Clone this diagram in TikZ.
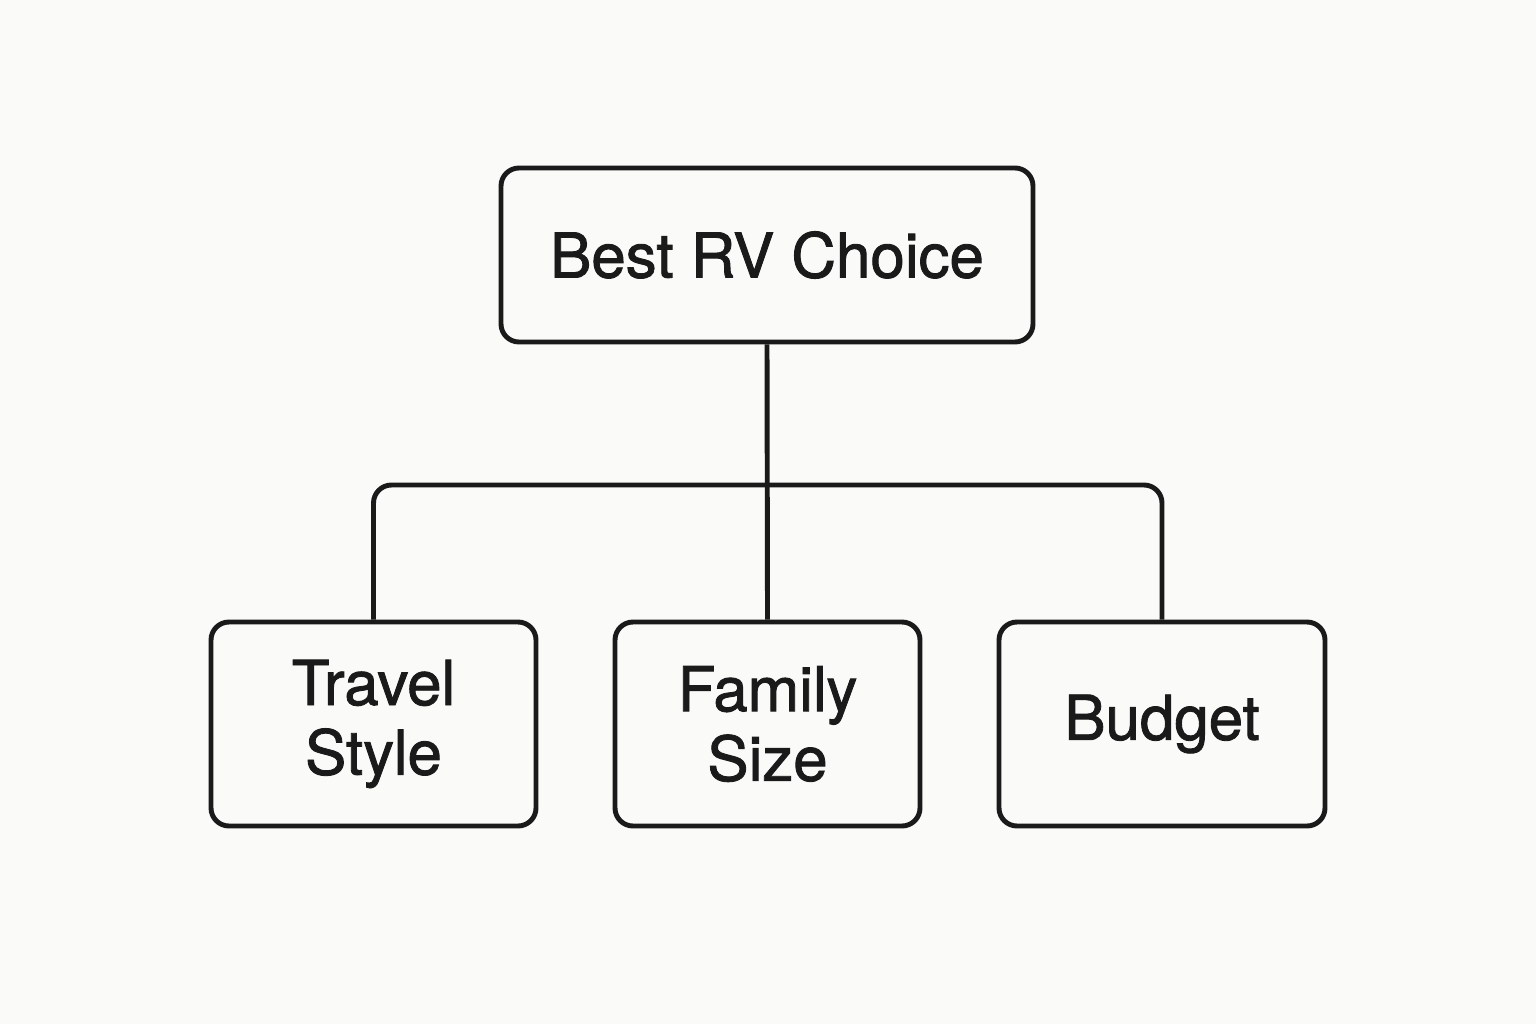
\documentclass[tikz,border=0pt]{standalone}
\usepackage{fontspec}
\newfontfamily\boxfont[FakeBold=1.4]{TeX Gyre Heros}
\usepackage{tikz}
\usetikzlibrary{positioning}

\definecolor{paper}{HTML}{FAFAF8}
\definecolor{ink}{HTML}{1A1A1A}

\begin{document}
\begin{tikzpicture}[line width=1.4pt,draw=ink,
	main node/.style={rectangle,rounded corners=0.18cm,draw=ink,fill=paper,align=center,
		font=\boxfont\fontsize{17.6}{19.8}\selectfont,text=ink,inner sep=0pt}]

	\fill[paper] (0,0) rectangle (15.36,10.24);
	\useasboundingbox (0,0) rectangle (15.36,10.24);

	\node[main node,minimum width=5.32cm,minimum height=1.74cm] (top) at (7.67,7.69) {Best RV Choice};
	\node[main node,minimum width=3.25cm,minimum height=2.04cm] (travel) at (3.735,3.00) {Travel\\Style};
	\node[main node,minimum width=3.05cm,minimum height=2.04cm] (family) at (7.675,3.00) {Family\\Size};
	\node[main node,minimum width=3.26cm,minimum height=2.04cm] (budget) at (11.62,3.00) {Budget};

	\coordinate (bar) at (7.67,5.39);

	\draw[ink] (top.south) -- (family.north);
	\draw[ink,rounded corners=0.18cm] (travel.north) |- (bar) -| (budget.north);

\end{tikzpicture}
\end{document}
